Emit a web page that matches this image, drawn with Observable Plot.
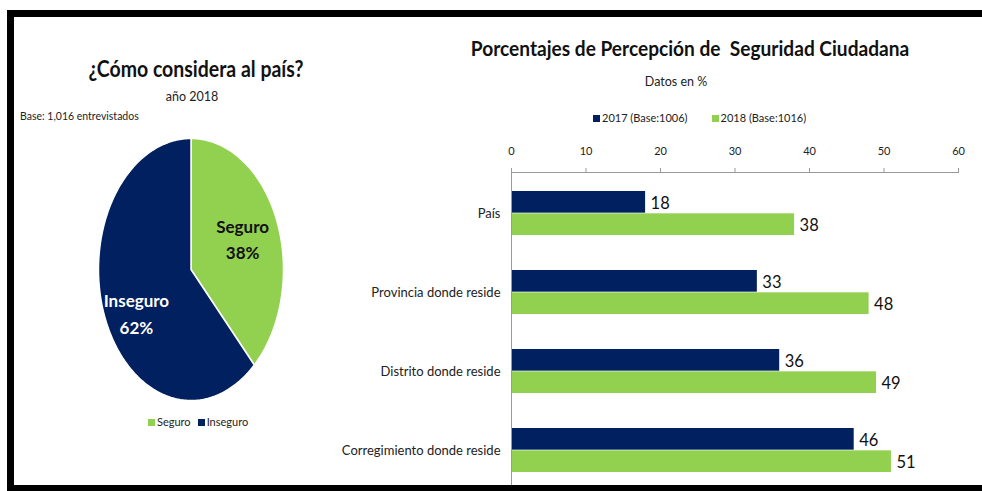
<!DOCTYPE html>
<html><head><meta charset="utf-8">
<script src="https://cdn.jsdelivr.net/npm/d3@7"></script>
<script src="https://cdn.jsdelivr.net/npm/@observablehq/plot@0.6"></script>
<style>
html,body{margin:0;padding:0;background:#fff;}
#page{position:relative;width:982px;height:491px;overflow:hidden;background:#fff;
  font-family:Lato,"Liberation Sans Narrow","DejaVu Sans Condensed",sans-serif;color:#111;}
.abs{position:absolute;}
.center{transform:translateX(-50%);white-space:pre;}
.band{position:absolute;background:#000;z-index:10;}
.sw{display:inline-block;width:7px;height:7px;margin-right:2px;vertical-align:0px;}
.legend{position:absolute;font-size:11px;white-space:nowrap;color:#222;}
</style></head>
<body><div id="page">
  <div class="band" style="left:7px;top:10px;width:975px;height:7px"></div>
  <div class="band" style="left:7px;top:10px;width:7px;height:481px"></div>
  <div class="band" style="left:7px;top:485px;width:975px;height:6px"></div>

  <div class="abs center" style="left:196px;top:55px;font-size:22px;font-weight:bold;transform:translateX(-50%) scaleX(0.885)">¿Cómo considera al país?</div>
  <div class="abs center" style="left:192px;top:89px;font-size:12.5px;color:#222">año 2018</div>
  <div class="abs" style="left:20px;top:110px;font-size:10.5px;color:#222">Base: 1,016 entrevistados</div>
  <div id="pie" class="abs" style="left:14px;top:130px"></div>
  <div id="pieLegend" class="legend" style="left:148px;top:415px"></div>

  <div class="abs center" style="left:690px;top:35px;font-size:21px;font-weight:bold;transform:translateX(-50%) scaleX(0.91)">Porcentajes de Percepción de  Seguridad Ciudadana</div>
  <div class="abs center" style="left:676px;top:74px;font-size:12.5px;color:#222">Datos en %</div>
  <div id="barLegend" class="legend" style="left:593px;top:111px"></div>
  <div id="bars" class="abs" style="left:330px;top:140px"></div>
</div>
<script>
// ---- data ----
const pieLabels = ["Seguro", "Inseguro"];
const pieValues = [38, 62];
const categories = ["País", "Provincia donde reside", "Distrito donde reside", "Corregimiento donde reside"];
const seriesNames = ["2017 (Base:1006)", "2018 (Base:1016)"];
const values2017 = [18, 33, 36, 46];
const values2018 = [38, 48, 49, 51];
const xTicks = [0, 10, 20, 30, 40, 50, 60];

const navy = "#002060", green = "#92D050";
const pieColors = [green, navy];
const fontFam = 'Lato,"DejaVu Sans Condensed",sans-serif';

// ---- pie ----
const arcs = d3.pie().sort(null)(pieValues);
const pieGeom = arcs.map((a, i) => {
  const pts = [{x: 0, y: 0}];
  const n = Math.max(2, Math.ceil((a.endAngle - a.startAngle) / (Math.PI / 180)));
  for (let j = 0; j <= n; j++) {
    const t = a.startAngle + (a.endAngle - a.startAngle) * j / n;
    pts.push({x: Math.sin(t), y: Math.cos(t)});
  }
  pts.push({x: 0, y: 0});
  return pts;
});
const pieText = arcs.map((a, i) => {
  const m = (a.startAngle + a.endAngle) / 2;
  return {x: 0.6 * Math.sin(m), y: 0.6 * Math.cos(m), t: pieLabels[i] + "\n" + pieValues[i] + "%", i};
});
const pie = Plot.plot({
  width: 360, height: 290,
  marginLeft: 84, marginRight: 91, marginTop: 8, marginBottom: 20,
  x: {domain: [-1, 1], axis: null},
  y: {domain: [-1, 1], axis: null},
  style: {fontFamily: fontFam, background: "transparent"},
  marks: [
    ...pieGeom.map((pts, i) => Plot.line(pts, {x: "x", y: "y", fill: pieColors[i], stroke: "white", strokeWidth: 1.5, strokeLinejoin: "round"})),
    Plot.text(pieText.filter(d => d.i === 0), {x: "x", y: "y", text: "t", fill: "#111", fontSize: 17, fontWeight: "bold", lineHeight: 1.55, dy: -3}),
    Plot.text(pieText.filter(d => d.i === 1), {x: "x", y: "y", text: "t", fill: "white", fontSize: 17, fontWeight: "bold", lineHeight: 1.6, dy: 13, dx: -3})
  ]
});
document.getElementById("pie").appendChild(pie);
document.getElementById("pieLegend").innerHTML = pieLabels.map((l, i) =>
  `<span style="margin-right:7px"><span class="sw" style="background:${pieColors[i]}"></span>${l}</span>`).join("");
document.getElementById("barLegend").innerHTML = seriesNames.map((l, i) =>
  `<span style="margin-right:${i === 0 ? 24 : 0}px"><span class="sw" style="background:${[navy, green][i]}"></span>${l}</span>`).join("");

// ---- bars ----
const H = 351, mT = 32, mB = 0, pIn = 0.44, pOut = 0.22;
const step = (H - mT - mB) / (categories.length - pIn + 2 * pOut);
const bw = step * (1 - pIn), half = bw / 2;
const d17 = categories.map((c, i) => ({cat: c, v: values2017[i]}));
const d18 = categories.map((c, i) => ({cat: c, v: values2018[i]}));
const bars = Plot.plot({
  width: 652, height: H,
  marginLeft: 181, marginRight: 24, marginTop: mT, marginBottom: mB,
  x: {domain: [0, 60]},
  y: {domain: categories, paddingInner: pIn, paddingOuter: pOut},
  style: {fontFamily: fontFam, background: "transparent", color: "#222"},
  marks: [
    Plot.barX(d17, {x: "v", y: "cat", fill: navy, insetBottom: half}),
    Plot.barX(d18, {x: "v", y: "cat", fill: green, insetTop: half}),
    Plot.text(d17, {x: "v", y: "cat", text: "v", dx: 5, dy: -half / 2 + 1, textAnchor: "start", fontSize: 16.5, fill: "#111"}),
    Plot.text(d18, {x: "v", y: "cat", text: "v", dx: 5, dy: half / 2 + 1, textAnchor: "start", fontSize: 16.5, fill: "#111"}),
    Plot.frame({anchor: "top", stroke: "#999"}),
    Plot.ruleX([0], {stroke: "#999"}),
    Plot.axisX({anchor: "top", ticks: xTicks, tickSize: 5, tickPadding: 13, label: null, fontSize: 11, stroke: "#999"}),
    Plot.axisY({tickSize: 0, tickPadding: 11, label: null, fontSize: 13})
  ]
});
document.getElementById("bars").appendChild(bars);
</script>
</body></html>
